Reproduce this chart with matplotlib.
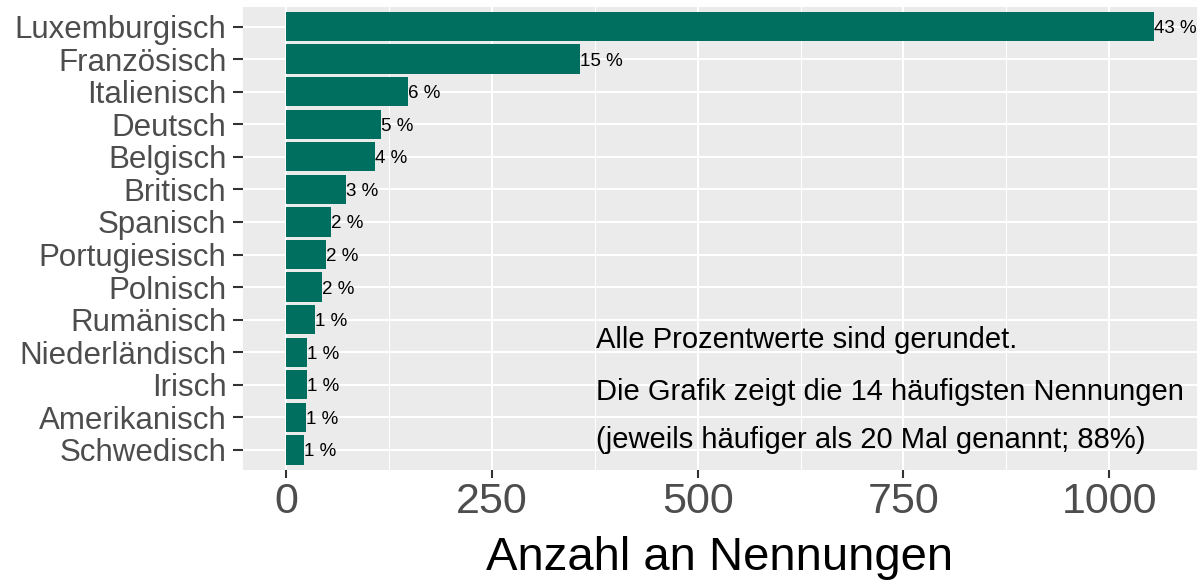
import matplotlib
matplotlib.use("Agg")
import matplotlib.pyplot as plt
import numpy as np

categories = ["Luxemburgisch", "Französisch", "Italienisch", "Deutsch", "Belgisch",
              "Britisch", "Spanisch", "Portugiesisch", "Polnisch", "Rumänisch",
              "Niederländisch", "Irisch", "Amerikanisch", "Schwedisch"]
counts = [1054, 357, 148, 115, 108, 72, 54, 48, 43, 35, 25, 25, 24, 21]
pct_labels = ["43 %", "15 %", "6 %", "5 %", "4 %", "3 %", "2 %", "2 %", "2 %",
              "1 %", "1 %", "1 %", "1 %", "1 %"]
x_ticks = [0, 250, 500, 750, 1000]
x_minor = [125, 375, 625, 875]
notes = ["Alle Prozentwerte sind gerundet.",
         "Die Grafik zeigt die 14 häufigsten Nennungen",
         "(jeweils häufiger als 20 Mal genannt; 88%)"]

plt.rcParams['font.family'] = ['Liberation Sans', 'DejaVu Sans']

W, H = 1197, 585
fig = plt.figure(figsize=(W / 100, H / 100), dpi=100)
ax = fig.add_axes([243 / W, 1 - 469.5 / H, 1 - 243 / W, (469.5 - 7) / H])
ax.set_facecolor("#EBEBEB")

pos = np.arange(len(categories))
ax.barh(pos, counts, height=0.9, color="#006F60", zorder=3)

maxv = max(counts)
ax.set_xlim(-0.05 * maxv, 1.05 * maxv)
ax.set_ylim(len(categories) - 1 + 0.6, -0.6)

for p, v, lab in zip(pos, counts, pct_labels):
    ax.text(v, p, lab, ha="left", va="center_baseline", fontsize=13.5,
            color="black", zorder=4, clip_on=False)

ax.set_yticks(pos)
ax.set_yticklabels(categories)
ax.set_xticks(x_ticks)
ax.set_xticks(x_minor, minor=True)

ax.grid(which="major", color="white", linewidth=1.5, zorder=1)
ax.grid(which="minor", axis="x", color="white", linewidth=0.75, zorder=1)
ax.set_axisbelow(True)
for s in ax.spines.values():
    s.set_visible(False)

ax.tick_params(axis="y", which="major", labelsize=22.5, labelcolor="#4D4D4D",
               color="#333333", length=7, width=1.5, pad=5)
ax.tick_params(axis="x", which="major", labelsize=31, labelcolor="#4D4D4D",
               color="#333333", length=6, width=1.5, pad=3)
ax.tick_params(axis="x", which="minor", length=0)

ax.set_xlabel("Anzahl an Nennungen", fontsize=34, color="black", labelpad=10)

# annotation lines (baseline positions in data coords)
note_x = 376
note_y = [9.87, 11.46, 12.94]
for t, yy in zip(notes, note_y):
    ax.text(note_x, yy, t, ha="left", va="baseline", fontsize=21,
            color="black", zorder=5)

fig.savefig("out.png", dpi=100)
